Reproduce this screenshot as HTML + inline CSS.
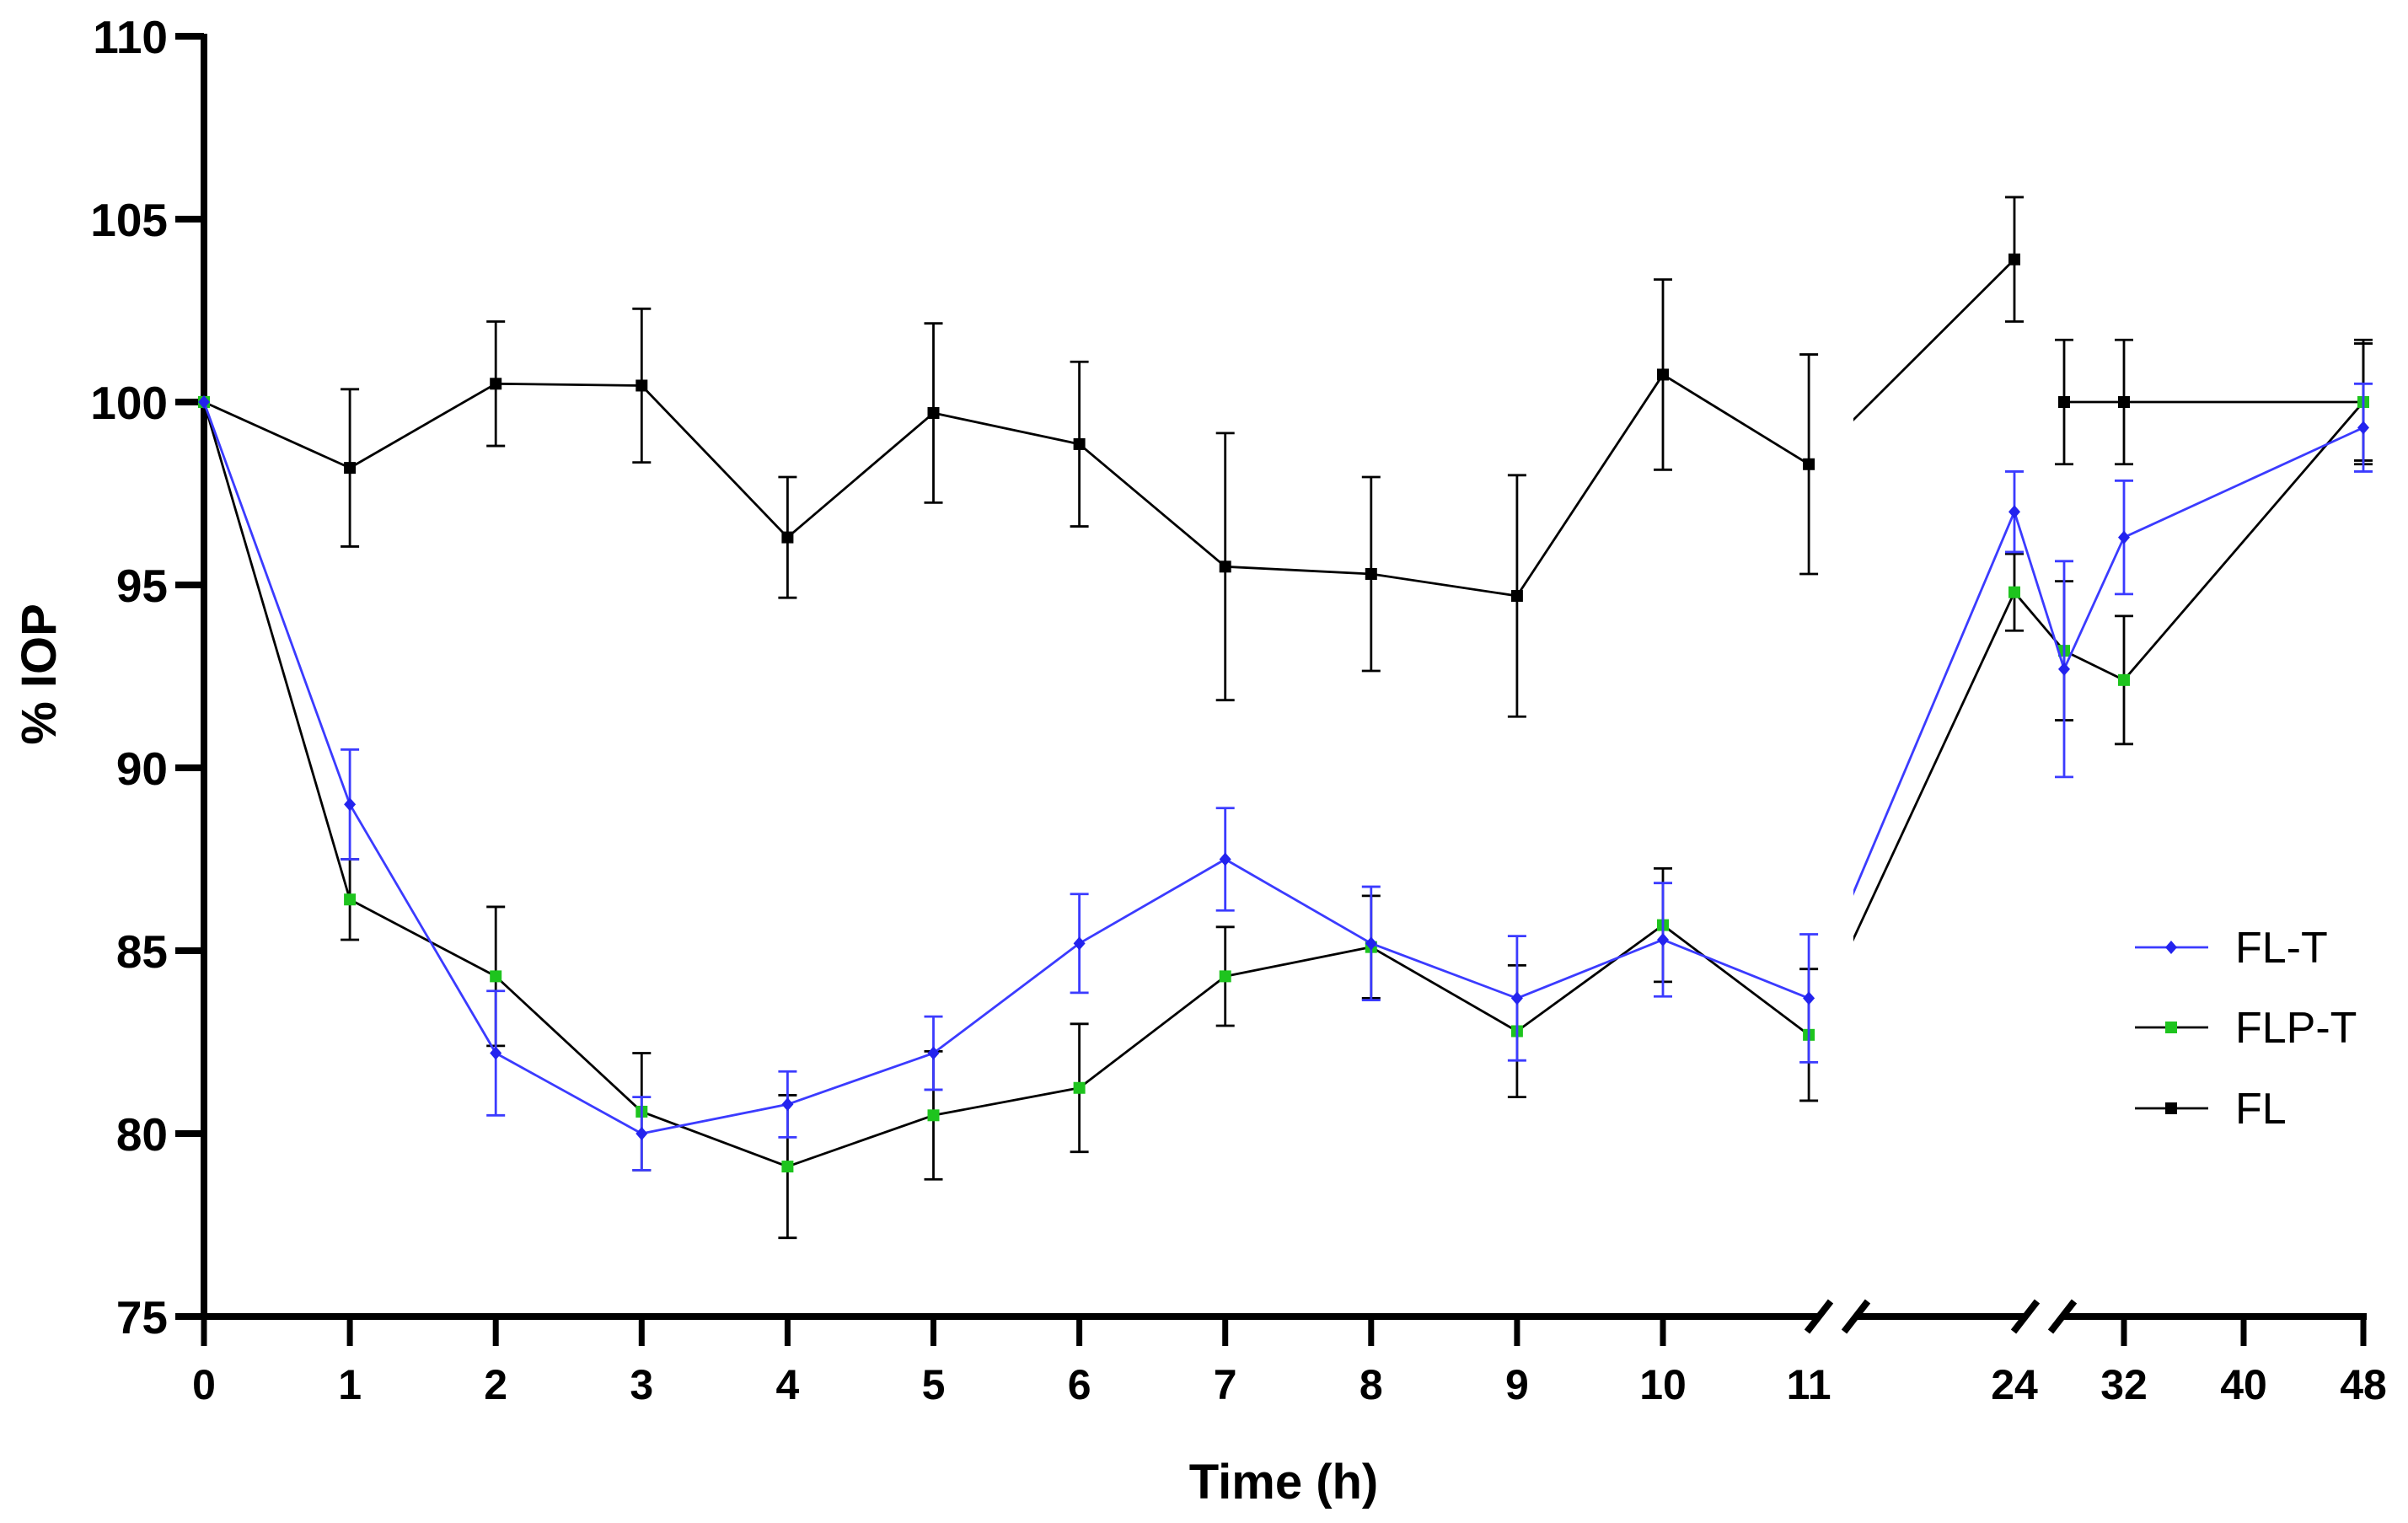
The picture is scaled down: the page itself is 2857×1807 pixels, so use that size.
<!DOCTYPE html>
<html><head><meta charset="utf-8"><style>
html,body{margin:0;padding:0;background:#fff}
svg{display:block}
text{font-family:"Liberation Sans",Arial,sans-serif}
</style></head><body>
<svg id="chart" width="2857" height="1807" viewBox="0 0 2857 1807">
<defs><clipPath id="seg2clip"><rect x="2199" y="0" width="200" height="1807"/></clipPath></defs>
<g id="axes"></g>
<g id="series"></g>
<g id="legend"></g>
</svg>
<script>
const hours = [0,1,2,3,4,5,6,7,8,9,10,11,24,28,32,48];
const flMean = [100,98.2,100.5,100.45,96.3,99.7,98.85,95.5,95.3,94.7,100.75,98.3,103.9,100,100,100];
const flErr  = [0,2.15,1.7,2.1,1.65,2.45,2.25,3.65,2.65,3.3,2.6,3.0,1.7,1.7,1.7,1.6];
const fltMean = [100,89,82.2,80,80.8,82.2,85.2,87.5,85.2,83.7,85.3,83.7,97,92.7,96.3,99.3];
const fltErr  = [0,1.5,1.7,1.0,0.9,1.0,1.35,1.4,1.55,1.7,1.55,1.75,1.1,2.95,1.55,1.2];
const flptMean = [100,86.4,84.3,80.6,79.1,80.5,81.25,84.3,85.1,82.8,85.7,82.7,94.8,93.2,92.4,100];
const flptErr  = [0,1.1,1.9,1.6,1.95,1.75,1.75,1.35,1.4,1.8,1.55,1.8,1.05,1.9,1.75,1.7];
const yTicks = [75,80,85,90,95,100,105,110];
const xTickLabels = ["0","1","2","3","4","5","6","7","8","9","10","11","24","32","40","48"];
const xTickHours = [0,1,2,3,4,5,6,7,8,9,10,11,24,32,40,48];

const NS="http://www.w3.org/2000/svg";
function y(v){return 477-(v-100)*43.4;}
function x(h){
  if(h<=11) return 242+h*173.1;
  if(h<=24) return 2390-(24-h)*173.1;
  return 2520+(h-32)*17.75;
}
function mk(tag,attrs,parent){const e=document.createElementNS(NS,tag);for(const k in attrs)e.setAttribute(k,attrs[k]);parent.appendChild(e);return e;}
const axes=document.getElementById('axes'), series=document.getElementById('series'), legend=document.getElementById('legend');

let e=mk('line',{x1:242,y1:y(110)-3,x2:242,y2:1566,stroke:'#000','stroke-width':8},axes);


yTicks.forEach(v=>{
  let t=mk('line',{x1:208,y1:y(v),x2:242,y2:y(v),stroke:'#000','stroke-width':8},axes);
  
  
  let l=mk('text',{x:199,y:y(v)+20,'text-anchor':'end','font-size':55,'font-weight':'bold'},axes);
  l.textContent=v;
  
  
});
[[238,2160],[2200,2405],[2446,2808]].forEach(s=>{
  let a=mk('line',{x1:s[0],y1:1562,x2:s[1],y2:1562,stroke:'#000','stroke-width':8},axes);
  
  
});
[2158,2202,2403,2447].forEach(bx=>{
  let b=mk('line',{x1:bx-14,y1:1580,x2:bx+14,y2:1544,stroke:'#000','stroke-width':8},axes);
  
  
});
xTickHours.forEach((h,i)=>{
  if(h!==11 && h!==24){
    let t=mk('line',{x1:x(h),y1:1562,x2:x(h),y2:1597,stroke:'#000','stroke-width':7},axes);
    
    
  }
  let l=mk('text',{x:x(h),y:1660,'text-anchor':'middle','font-size':50,'font-weight':'bold'},axes);
  l.textContent=xTickLabels[i];
  
  
});
let xt=mk('text',{x:1523,y:1778,'text-anchor':'middle','font-size':58,'font-weight':'bold'},axes);
xt.textContent='Time (h)';


let yt=mk('text',{x:0,y:0,'text-anchor':'middle','font-size':58,'font-weight':'bold',transform:'translate(66,800) rotate(-90)'},axes);
yt.textContent='% IOP';



function drawSeries(name,mean,err,lineCol,markCol,errCol,shape,skip24to28){
  const g=mk('g',{},series);
  
  
  for(let i=0;i<hours.length-1;i++){
    if(skip24to28 && hours[i]===24) continue;
    const a={x1:x(hours[i]),y1:y(mean[i]),x2:x(hours[i+1]),y2:y(mean[i+1]),stroke:lineCol,'stroke-width':2.8};
    if(hours[i]===11) a['clip-path']='url(#seg2clip)';
    let l=mk('line',a,g);
    
    
  }
  hours.forEach((h,i)=>{
    if(err[i]>0){
      const cx=x(h),t=y(mean[i]+err[i]),b=y(mean[i]-err[i]);
      let eb=mk('path',{d:`M${cx},${t}V${b}M${cx-11},${t}H${cx+11}M${cx-11},${b}H${cx+11}`,stroke:errCol,'stroke-width':2.8,fill:'none'},g);
      
      
    }
  });
  hours.forEach((h,i)=>{
    const cx=x(h),cy=y(mean[i]);
    let m;
    if(shape==='diamond') m=mk('path',{d:`M${cx},${cy-8}L${cx+7},${cy}L${cx},${cy+8}L${cx-7},${cy}Z`,fill:markCol},g);
    else m=mk('rect',{x:cx-7,y:cy-7,width:14,height:14,fill:markCol},g);
    
    
  });
}
drawSeries('fl',flMean,flErr,'#000','#000','#000','square',true);
drawSeries('flp-t',flptMean,flptErr,'#000','#1ec41e','#000','square',false);
drawSeries('fl-t',fltMean,fltErr,'#3b3bff','#2323ee','#3b3bff','diamond',false);

const legItems=[['FL-T','#3b3bff','#2323ee','diamond',1124],['FLP-T','#000','#1ec41e','square',1219],['FL','#000','#000','square',1315]];
legItems.forEach(it=>{
  const g=mk('g',{},legend);
  
  
  mk('line',{x1:2533,y1:it[4],x2:2620,y2:it[4],stroke:it[1],'stroke-width':2.8},g);
  const cx=2576,cy=it[4];
  if(it[3]==='diamond') mk('path',{d:`M${cx},${cy-8}L${cx+7},${cy}L${cx},${cy+8}L${cx-7},${cy}Z`,fill:it[2]},g);
  else mk('rect',{x:cx-7,y:cy-7,width:14,height:14,fill:it[2]},g);
  let t=mk('text',{x:2652,y:cy+18,'font-size':52},g);
  t.textContent=it[0];
  
  
});
</script>
</body></html>
